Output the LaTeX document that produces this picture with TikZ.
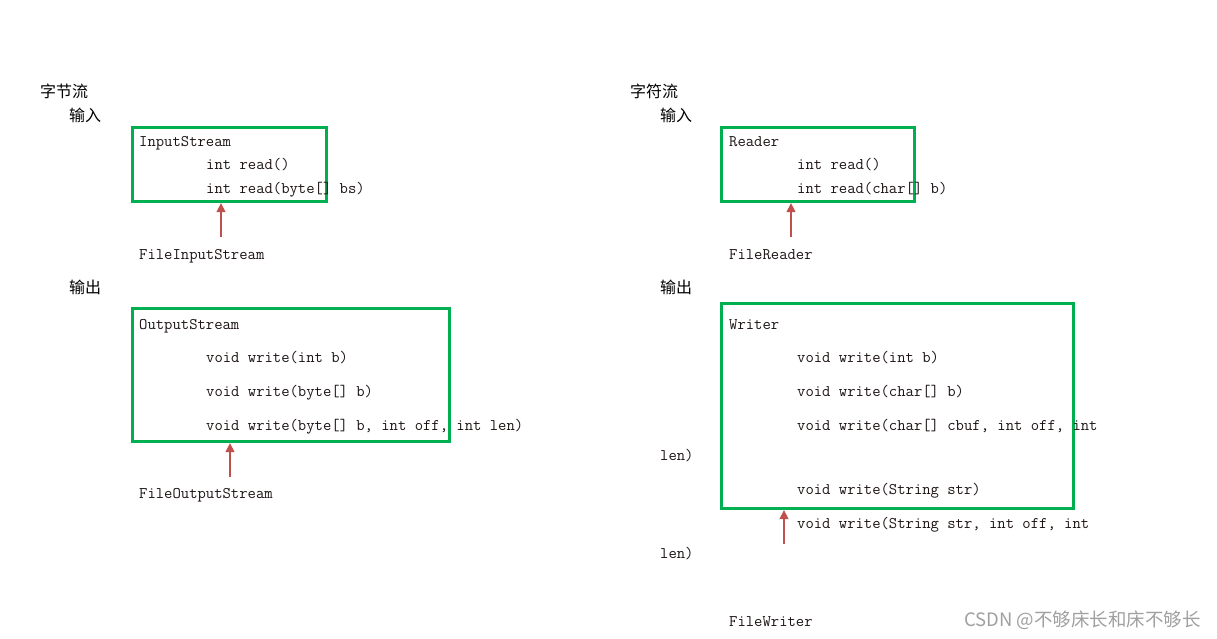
\documentclass[tikz,border=0pt]{standalone}
\usepackage{fontspec}
\newfontfamily\cjk{Noto Sans CJK SC}
\usetikzlibrary{arrows.meta}
\definecolor{boxgreen}{RGB}{0,176,80}
\definecolor{arrred}{RGB}{192,80,77}
\definecolor{codetext}{RGB}{30,20,20}
\definecolor{wm}{RGB}{160,160,160}
\tikzset{
  code/.style={anchor=west, inner sep=0pt, text height=0.7em, text depth=0.2em, yshift=-2.5pt,
    font=\fontsize{16.2}{18}\selectfont\ttfamily, text=codetext},
  zh/.style={anchor=west, inner sep=0pt, font=\fontsize{16}{18}\selectfont\cjk, text=black},
  gbox/.style={draw=boxgreen, line width=3pt, inner sep=0pt, anchor=north west},
  arr/.style={draw=arrred, line width=2.8pt, -{Triangle[width=8.5pt,length=9pt]}},
}
\begin{document}
\begin{tikzpicture}[x=1pt,y=-1pt]
\useasboundingbox[fill=white] (0,0) rectangle (1217,638);

% ---------- left: byte streams ----------
\node[zh] (t1) at (40,91) {字节流};
\node[zh] (in1) at (69,115) {输入};
\node[gbox, minimum width=194pt, minimum height=74pt] (b1) at (131,126) {};
\node[code] (is) at (139,141) {InputStream};
\node[code] (is1) at (206,164) {int read()};
\node[code] (is2) at (206,188) {int read(byte[] bs)};
\coordinate (a1) at (221,237);
\draw[arr] (a1) -- (a1 |- b1.south);
\node[code] (fis) at (139,254) {FileInputStream};

\node[zh] (out1) at (69,287) {输出};
\node[gbox, minimum width=317pt, minimum height=133pt] (b2) at (131,307) {};
\node[code] (os) at (139,324) {OutputStream};
\node[code] (os1) at (206,357) {void write(int b)};
\node[code] (os2) at (206,391) {void write(byte[] b)};
\node[code] (os3) at (206,425) {void write(byte[] b, int off, int len)};
\coordinate (a2) at (230,477);
\draw[arr] (a2) -- (a2 |- b2.south);
\node[code] (fos) at (139,493) {FileOutputStream};

% ---------- right: character streams ----------
\node[zh] (t2) at (630,91) {字符流};
\node[zh] (in2) at (660,115) {输入};
\node[gbox, minimum width=193pt, minimum height=74pt] (b3) at (720,126) {};
\node[code] (rd) at (729,141) {Reader};
\node[code] (rd1) at (797,164) {int read()};
\node[code] (rd2) at (797,188) {int read(char[] b)};
\coordinate (a3) at (791,237);
\draw[arr] (a3) -- (a3 |- b3.south);
\node[code] (fr) at (729,254) {FileReader};

\node[zh] (out2) at (660,287) {输出};
\node[gbox, minimum width=352pt, minimum height=205pt] (b4) at (720,302) {};
\node[code] (wr) at (729,324) {Writer};
\node[code] (wr1) at (797,357) {void write(int b)};
\node[code] (wr2) at (797,391) {void write(char[] b)};
\node[code] (wr3) at (797,425) {void write(char[] cbuf, int off, int};
\node[code] (wr3b) at (660,455) {len)};
\node[code] (wr4) at (797,489) {void write(String str)};
\node[code] (wr5) at (797,523) {void write(String str, int off, int};
\node[code] (wr5b) at (660,553) {len)};
\coordinate (a4) at (784,544);
\draw[arr] (a4) -- (a4 |- b4.south);
\node[code] (fw) at (729,621) {FileWriter};

% watermark
\node[anchor=east, inner sep=0pt, font=\fontsize{18.5}{20}\selectfont\cjk, text=wm] (wmk) at (1201,620) {CSDN @不够床长和床不够长};
\end{tikzpicture}
\end{document}
